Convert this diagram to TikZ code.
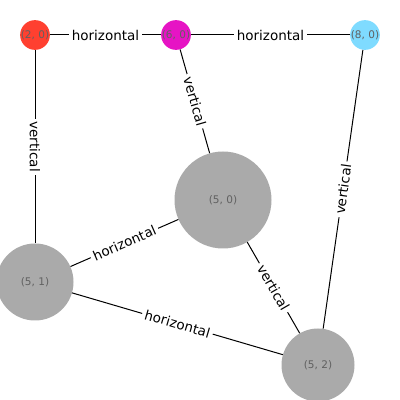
\documentclass[tikz,border=0pt]{standalone}
\usepackage{fontspec}
\setmainfont{DejaVu Sans}
\begin{document}
\begin{tikzpicture}[x=1pt,y=1pt,
  vtx/.style={circle,inner sep=0pt,draw=none,text=black!62,font=\fontsize{10.5}{12}\selectfont},
  elabel/.style={midway,fill=white,inner sep=3pt,font=\fontsize{13.5}{15}\selectfont,text=black},
  link/.style={draw=black,line width=1pt}]
\useasboundingbox (0,0) rectangle (400,400);
% vertices
\node[vtx,fill={rgb,255:red,255;green,64;blue,48},minimum size=27pt] (n20) at (35,365) {(2, 0)};
\node[vtx,fill={rgb,255:red,230;green,20;blue,196},minimum size=27pt] (n60) at (176,365) {(6, 0)};
\node[vtx,fill={rgb,255:red,127;green,219;blue,255},minimum size=27pt] (n80) at (365,365) {(8, 0)};
\node[vtx,fill={rgb,255:red,170;green,170;blue,170},minimum size=97pt] (n50) at (223,200) {(5, 0)};
\node[vtx,fill={rgb,255:red,170;green,170;blue,170},minimum size=77pt] (n51) at (35,118) {(5, 1)};
\node[vtx,fill={rgb,255:red,170;green,170;blue,170},minimum size=73pt] (n52) at (318,35) {(5, 2)};
% connectors with their labels
\path[link] (n20) -- node[elabel] {horizontal} (n60);
\path[link] (n60) -- node[elabel] {horizontal} (n80);
\path[link] (n20) -- node[elabel,rotate=-90] {vertical} (n51);
\path[link] (n60) -- node[elabel,rotate=-74] {vertical} (n50);
\path[link] (n80) -- node[elabel,rotate=82] {vertical} (n52);
\path[link] (n51) -- node[elabel,rotate=23.6] {horizontal} (n50);
\path[link] (n51) -- node[elabel,rotate=-16.3] {horizontal} (n52);
\path[link] (n50) -- node[elabel,rotate=-60] {vertical} (n52);
\end{tikzpicture}
\end{document}
